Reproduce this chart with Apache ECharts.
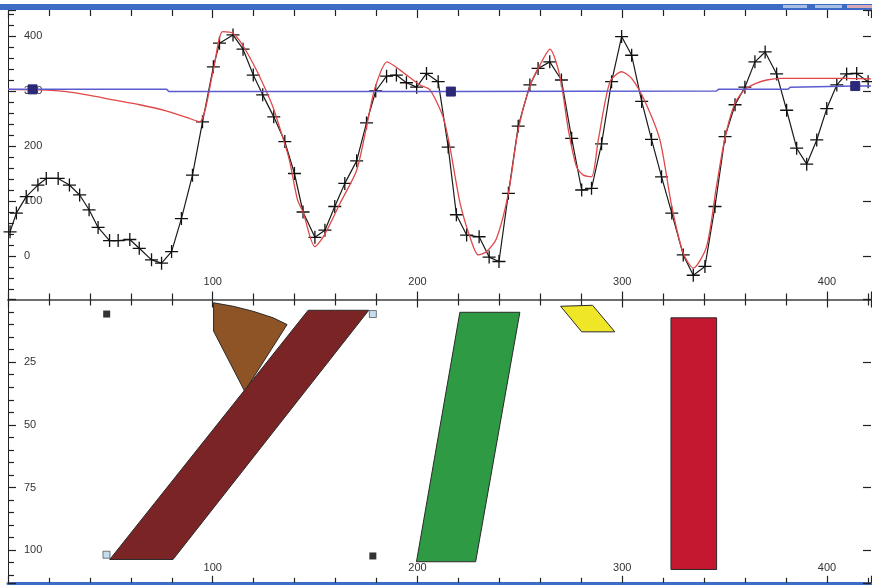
<!DOCTYPE html>
<html>
<head>
<meta charset="utf-8">
<script src="https://cdn.jsdelivr.net/npm/echarts@6/dist/echarts.min.js"></script>
<style>
html,body{margin:0;padding:0;background:#fff;}
#chart{width:872px;height:586px;}
</style>
</head>
<body>
<div id="chart"></div>
<script>
// ---- Top panel data ----
const blackSeries = [
[1,44],[4.1,78],[8.9,108],[14.6,129],[18.7,141],[24.5,141],[30,129],[35,111],[39.6,84],[44,52],
[49.6,28],[53.8,28],[59.5,30],[64.1,14],[70.1,-7],[75,-13],[79.9,8],[84.7,68],[90.1,147],[95,244],
[100.3,344],[103.3,387],[109.9,402],[114.8,376],[119.8,329],[124.4,293],[129.8,253],[135.2,208],[139.9,150],
[144.1,80],[149.9,34],[154.8,47],[159.6,90],[164.5,132],[170.3,173],[175.1,242],[179.6,300],[184.9,327],
[189.7,329],[194.6,315],[199.6,307],[204.4,332],[210.1,317],[215,198],[219,75],[224,38],[230.1,35],
[235,-2],[239.8,-10],[244.4,114],[249.2,236],[254.9,311],[258.9,341],[264.6,353],[270.3,320],[275.3,214],
[280.2,120],[285,123],[289.9,204],[294.8,317],[299.7,399],[304.6,365],[309.5,281],[314.3,212],[319.2,144],
[324.2,78],[329.8,2],[334.7,-35],[340.4,-19],[345.3,90],[350.2,217],[355.1,275],[359.9,307],[364.8,353],
[369.8,371],[375.4,331],[380.3,265],[385.2,196],[390.1,167],[395,211],[399.9,268],[404.8,311],[409.6,331],
[414.5,332],[420.1,317]
];
const redSeries = [
[0,303],[15,302],[28.5,299],[40,292],[51.3,284],[64.3,275],[77.2,264],[87.2,252],[93.6,244],
[100.3,338],[104.8,408],[109.9,405],[114.3,385],[119.7,350],[124.3,315],[129.4,271],[133.4,225],[137.4,175],
[141.4,102],[144.1,80],[149.9,17],[154.5,38],[162.2,96],[170.3,156],[175.1,235],[179.2,305],[185.2,353],
[191.5,338],[201.2,311],[206.1,302],[212.5,253],[215.8,199],[220.8,96],[225.6,35],[229.7,2],[233.8,8],
[238.6,32],[244.4,114],[249.2,230],[254.9,309],[259.8,347],[264.7,376],[269.6,326],[273.7,229],[277.7,162],
[281,147],[285,144],[288.3,211],[294,317],[299.7,335],[304.6,323],[311.1,281],[318.4,211],[324.2,90],
[329.8,5],[334.7,-22],[341.2,17],[346,126],[350.2,215],[355.1,278],[359.9,303],[365.3,314],[370.6,320],
[377.1,323],[393.5,323],[409.5,323],[421.5,322]
];
const blueSeries = [
[0,303],[12,303],[77.5,303],[78.5,299],[216.3,299],[346,300],[347,303],[381,303],[382,307],[413.8,309],[421.5,309]
];
const blueMarkerIdx = [1,4,9];

// ---- Bottom panel shapes (x, depth) ----
const sectorShape = [[100.4,1.3],[110,2.7],[119.7,4.7],[129.5,7.3],[136.3,10],[115.6,36.6],[100.4,12.6]];
const maroonShape = [[49.7,103.7],[80.6,103.7],[176.2,4.3],[146.6,4.3]];
const greenShape  = [[220.7,5.1],[250,5.1],[228.4,104.6],[199.5,104.6]];
const yellowShape = [[269.9,2.7],[285.5,2.3],[296.4,12.9],[280.2,12.9]];
const redShape    = [[323.8,7.3],[346.1,7.3],[346.1,107.7],[323.8,107.7]];
const blackSquares = [[48.2,5.8],[178.2,102.3]];
const lightSquares = [[48.1,101.8],[178.2,5.8]];

// ---- Tick settings ----
const xTicks = { min: 0, max: 421.5, interval: 100 };
const topY = { min: -79.1, max: 447.3 };
const bottomY = { min: 0, max: 113, interval: 25 };

// ---- styles (separate from data) ----
const shapeList = [sectorShape, maroonShape, greenShape, yellowShape, redShape];
const shapeFill = ['#8e5426', '#7b2426', '#2e9a44', '#f0e628', '#c41830'];

const labelFont = { color: '#333', fontFamily: 'Liberation Sans, Arial', fontSize: 11 };

function xAxisDef(gridIndex, position, opts) {
  return Object.assign({
    type: 'value', gridIndex, position,
    min: xTicks.min, max: xTicks.max, interval: xTicks.interval,
    splitLine: { show: false },
    axisLine: { show: true, onZero: false, lineStyle: { color: '#666', width: 1.5 } },
    axisTick: { show: true, inside: true, length: 8, lineStyle: { color: '#222', width: 1.2 } },
    minorTick: { show: true, splitNumber: 5, length: 6, lineStyle: { color: '#222', width: 1.2 } },
    axisLabel: Object.assign({ show: false, inside: true, margin: 12, showMinLabel: false, showMaxLabel: false }, labelFont)
  }, opts || {});
}

const option = {
  animation: false,
  backgroundColor: '#fff',
  graphic: [
    { type: 'rect', shape: { x: 0, y: 4, width: 872, height: 6 }, style: { fill: '#3d6cc4' }, z: 100 },
    { type: 'rect', shape: { x: 783, y: 5, width: 24, height: 3 }, style: { fill: '#a9bfe6' }, z: 101 },
    { type: 'rect', shape: { x: 815, y: 5, width: 27, height: 3 }, style: { fill: '#a9bfe6' }, z: 101 },
    { type: 'rect', shape: { x: 847, y: 5, width: 25, height: 3 }, style: { fill: '#d9a9b8' }, z: 101 }
  ],
  grid: [
    { left: 8, right: 1, top: 10, height: 289.5 },
    { left: 8, right: 1, top: 299.5, height: 283.3 }
  ],
  xAxis: [
    xAxisDef(0, 'bottom', { axisLabel: Object.assign({ show: true, inside: true, margin: 12, showMinLabel: false, showMaxLabel: false }, labelFont) }),
    xAxisDef(0, 'top', { axisLine: { show: false, onZero: false } }),
    xAxisDef(1, 'top', {}),
    xAxisDef(1, 'bottom', {
      axisLine: { show: true, onZero: false, lineStyle: { color: '#3d6cc4', width: 3 } },
      axisTick: { show: true, inside: true, length: 7, lineStyle: { color: '#222', width: 1.2 } },
      minorTick: { show: true, splitNumber: 5, length: 5, lineStyle: { color: '#222', width: 1.2 } },
      axisLabel: Object.assign({ show: true, inside: true, margin: 9, showMinLabel: false, showMaxLabel: false }, labelFont)
    })
  ],
  yAxis: [
    {
      type: 'value', gridIndex: 0, position: 'left', min: topY.min, max: topY.max, splitNumber: 5,
      splitLine: { show: false },
      axisLine: { show: true, onZero: false, lineStyle: { color: '#222', width: 1 } },
      axisTick: { show: true, inside: true, length: 8, lineStyle: { color: '#222', width: 1.2 } },
      minorTick: { show: true, splitNumber: 5, length: 6, lineStyle: { color: '#222', width: 1.2 } },
      axisLabel: Object.assign({ inside: true, margin: 16, showMinLabel: false, showMaxLabel: false }, labelFont)
    },
    {
      type: 'value', gridIndex: 0, position: 'right', min: topY.min, max: topY.max, splitNumber: 5,
      splitLine: { show: false }, axisLine: { show: false, onZero: false },
      axisTick: { show: true, inside: true, length: 8, lineStyle: { color: '#222', width: 1.2 } },
      axisLabel: { show: false }
    },
    {
      type: 'value', gridIndex: 1, position: 'left', inverse: true,
      min: bottomY.min, max: bottomY.max, interval: bottomY.interval,
      splitLine: { show: false },
      axisLine: { show: true, onZero: false, lineStyle: { color: '#222', width: 1 } },
      axisTick: { show: true, inside: true, length: 8, lineStyle: { color: '#222', width: 1.2 } },
      minorTick: { show: true, splitNumber: 5, length: 6, lineStyle: { color: '#222', width: 1.2 } },
      axisLabel: Object.assign({ inside: true, margin: 16, showMinLabel: false, showMaxLabel: false }, labelFont)
    },
    {
      type: 'value', gridIndex: 1, position: 'right', inverse: true,
      min: bottomY.min, max: bottomY.max, interval: bottomY.interval,
      splitLine: { show: false }, axisLine: { show: false, onZero: false },
      axisTick: { show: true, inside: true, length: 8, lineStyle: { color: '#222', width: 1.2 } },
      axisLabel: { show: false }
    }
  ],
  series: [
    {
      name: 'measured', type: 'line', xAxisIndex: 0, yAxisIndex: 0,
      data: blackSeries,
      symbol: 'path://M0,6H12M6,0V12', symbolSize: 13,
      itemStyle: { color: '#111', borderColor: '#111', borderWidth: 1.3 },
      lineStyle: { color: '#1a1a1a', width: 1.2 },
      z: 3
    },
    {
      name: 'model', type: 'line', xAxisIndex: 0, yAxisIndex: 0,
      data: redSeries, showSymbol: false, symbol: 'none', smooth: 0.25,
      lineStyle: { color: '#e0474a', width: 1.3 },
      z: 4
    },
    {
      name: 'trend', type: 'line', xAxisIndex: 0, yAxisIndex: 0,
      data: blueSeries.map((p, i) => blueMarkerIdx.indexOf(i) >= 0 ? { value: p } : { value: p, symbol: 'none' }),
      symbol: 'rect', symbolSize: 9, showAllSymbol: true,
      itemStyle: { color: '#2b2878', borderColor: '#2b2878' },
      lineStyle: { color: '#5b5bd0', width: 1.5 },
      z: 5
    },
    {
      name: 'shapes', type: 'custom', xAxisIndex: 3, yAxisIndex: 2,
      data: shapeList.map((s, i) => [i, 0]),
      renderItem: function (params, api) {
        const idx = api.value(0);
        const pts = shapeList[idx].map(p => api.coord(p));
        return {
          type: 'polygon',
          shape: { points: pts },
          style: { fill: shapeFill[idx], stroke: '#2a2a2a', lineWidth: 1 }
        };
      },
      clip: true
    },
    {
      name: 'corners', type: 'scatter', xAxisIndex: 3, yAxisIndex: 2,
      data: blackSquares, symbol: 'rect', symbolSize: 7,
      itemStyle: { color: '#000' }, z: 6
    },
    {
      name: 'corners2', type: 'scatter', xAxisIndex: 3, yAxisIndex: 2,
      data: lightSquares, symbol: 'rect', symbolSize: 7,
      itemStyle: { color: '#b3d3ec', borderColor: '#333', borderWidth: 0.8 }, z: 6
    }
  ]
};

const chart = echarts.init(document.getElementById('chart'), null, { renderer: 'canvas' });
chart.setOption(option);
</script>
</body>
</html>
